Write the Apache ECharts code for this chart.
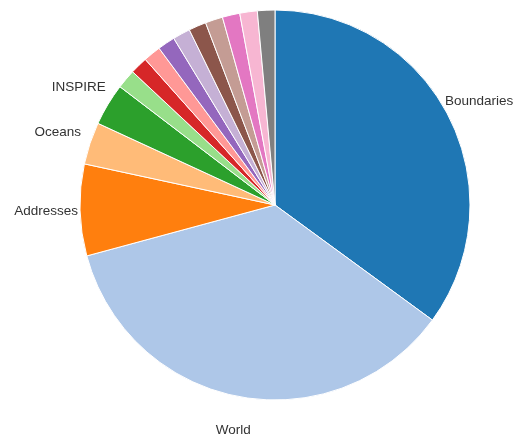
<!DOCTYPE html>
<html>
<head>
<meta charset="utf-8">
<script src="https://cdn.jsdelivr.net/npm/echarts@6/dist/echarts.min.js"></script>
<style>
  html, body { margin: 0; padding: 0; background: #fff; }
  #chart { width: 515px; height: 435px; }
</style>
</head>
<body>
<div id="chart"></div>
<script>
// slice names, clockwise from 12 o'clock
const names = ['Boundaries', 'World', 'Addresses', 'Oceans', 'INSPIRE', 'Other 1',
  'Other 2', 'Other 3', 'Other 4', 'Other 5', 'Other 6', 'Other 7', 'Other 8', 'Other 9', 'Other 10'];
const values = [35.1, 35.8, 7.6, 3.5, 3.5, 1.6, 1.45, 1.45, 1.45, 1.45, 1.45, 1.45, 1.45, 1.45, 1.45];
const labelled = ['Boundaries', 'World', 'Addresses', 'Oceans', 'INSPIRE'];
const colors = ['#1f77b4', '#aec7e8', '#ff7f0e', '#ffbb78', '#2ca02c', '#98df8a', '#d62728',
  '#ff9896', '#9467bd', '#c5b0d5', '#8c564b', '#c49c94', '#e377c2', '#f7b6d2', '#7f7f7f'];

const chart = echarts.init(document.getElementById('chart'));

const center = [275, 205];

// the visible pie
const pieData = names.map((name, i) => ({ name, value: values[i] }));

// an invisible ring with the same slices, only used to centre the labels
// a bit outside the pie (like d3's arc.centroid labels)
const labelData = names.map((name, i) => ({
  name,
  value: values[i],
  label: { show: labelled.includes(name) }
}));

chart.setOption({
  color: colors,
  animation: false,
  series: [{
    type: 'pie',
    center,
    radius: [0, 195],
    startAngle: 90,
    clockwise: true,
    label: { show: false },
    labelLine: { show: false },
    emphasis: { disabled: true },
    itemStyle: { borderColor: '#fff', borderWidth: 1 },
    data: pieData
  }, {
    type: 'pie',
    center,
    radius: [216, 236],
    startAngle: 90,
    clockwise: true,
    silent: true,
    emphasis: { disabled: true },
    itemStyle: { color: 'rgba(0,0,0,0)' },
    label: {
      position: 'inside',
      rotate: 0,
      color: '#333',
      fontSize: 13.5,
      fontFamily: 'Liberation Sans, Arial, sans-serif'
    },
    labelLine: { show: false },
    data: labelData
  }]
});
</script>
</body>
</html>
